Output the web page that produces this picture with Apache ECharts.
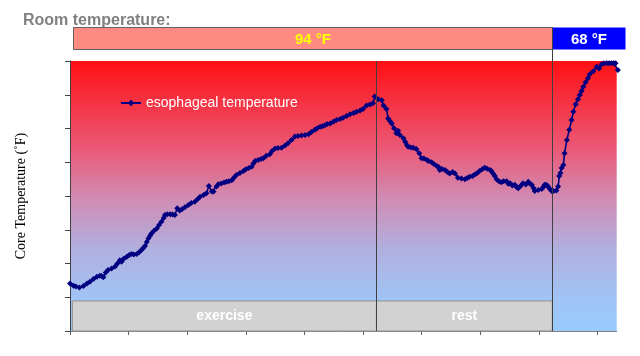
<!DOCTYPE html>
<html><head><meta charset="utf-8">
<script src="https://cdn.jsdelivr.net/npm/echarts@6/dist/echarts.min.js"></script>
<style>html,body{margin:0;padding:0;background:#fff}#c{width:640px;height:356px}</style>
</head><body><div id="c"></div>
<script>
// elapsed time (minutes) and esophageal core temperature (°F)
const minutes = [0.0,0.6,1.0,1.6,2.3,2.9,3.4,4.0,4.6,5.1,5.4,5.7,6.1,6.5,7.1,7.7,8.1,8.5,8.8,9.2,
  9.7,10.1,10.5,10.9,11.4,11.8,12.2,12.5,12.8,13.1,13.4,13.7,13.9,14.3,14.8,15.2,15.6,16.0,16.2,16.6,
  17.1,17.5,17.9,18.3,18.7,19.1,19.6,20.2,20.7,21.3,21.8,22.2,22.8,23.3,23.7,24.2,24.5,25.0,25.3,25.8,
  26.3,26.7,27.1,27.6,28.0,28.4,29.0,29.6,30.0,30.5,31.0,31.3,31.6,32.1,32.6,33.0,33.5,34.1,34.5,35.0,
  35.5,36.1,36.7,37.2,37.8,38.4,38.9,39.5,40.1,40.7,41.2,41.8,42.2,42.7,43.1,43.5,43.9,44.4,45.0,45.5,
  46.1,46.6,47.2,47.8,48.4,48.9,49.5,50.0,50.6,51.2,51.7,52.0,52.6,53.2,53.5,54.0,54.3,54.6,54.9,55.3,
  55.7,56.0,56.3,56.9,57.2,57.5,57.7,58.2,58.6,59.1,59.6,60.0,60.4,60.9,61.2,61.7,62.1,62.6,62.9,63.1,
  63.5,64.0,64.4,64.8,65.3,65.7,66.2,66.8,67.4,67.8,68.2,68.7,69.1,69.5,69.9,70.4,70.8,71.2,71.7,71.9,
  72.2,72.5,72.8,73.2,73.6,74.0,74.5,74.8,75.1,75.5,75.9,76.2,76.5,76.9,77.3,77.8,78.2,78.5,78.8,79.1,
  79.3,79.9,80.5,80.8,81.0,81.3,81.6,81.9,82.2,82.5,83.0,83.3,83.5,83.7,83.9,84.2,84.4,84.8,85.2,85.6,
  85.9,86.3,86.7,87.0,87.3,87.6,88.0,88.4,88.7,89.3,89.9,90.3,90.7,91.1,91.6,92.0,92.4,92.8,93.1,93.5];
const coreTemp = [98.41,98.34,98.32,98.29,98.33,98.41,98.46,98.54,98.61,98.64,98.63,98.59,98.73,98.81,98.85,98.91,99.00,99.10,99.05,99.15,
  99.20,99.25,99.28,99.27,99.28,99.33,99.40,99.46,99.52,99.64,99.75,99.83,99.89,99.96,100.04,100.14,100.24,100.35,100.44,100.46,
  100.46,100.45,100.44,100.64,100.57,100.61,100.67,100.73,100.79,100.83,100.91,100.98,101.03,101.08,101.30,101.13,101.13,101.28,101.35,101.37,
  101.40,101.42,101.44,101.47,101.55,101.62,101.68,101.74,101.79,101.83,101.87,101.96,102.04,102.07,102.10,102.12,102.19,102.24,102.33,102.41,
  102.42,102.43,102.50,102.56,102.66,102.76,102.78,102.79,102.81,102.83,102.90,102.96,103.01,103.05,103.07,103.10,103.13,103.15,103.21,103.25,
  103.28,103.32,103.37,103.42,103.46,103.50,103.53,103.58,103.68,103.71,103.75,103.95,103.87,103.84,103.68,103.58,103.30,103.22,103.15,103.01,
  102.86,102.93,102.81,102.71,102.61,102.51,102.46,102.44,102.43,102.39,102.27,102.12,102.11,102.07,102.04,102.00,101.95,101.89,101.86,101.77,
  101.80,101.77,101.71,101.67,101.71,101.67,101.54,101.52,101.50,101.53,101.57,101.59,101.64,101.68,101.74,101.80,101.84,101.81,101.77,101.74,
  101.67,101.59,101.50,101.44,101.41,101.44,101.44,101.36,101.38,101.31,101.33,101.27,101.23,101.30,101.38,101.34,101.42,101.36,101.33,101.24,
  101.15,101.18,101.21,101.27,101.33,101.33,101.28,101.21,101.15,101.15,101.16,101.28,101.59,101.68,101.83,101.92,102.27,102.66,102.96,103.25,
  103.50,103.72,103.87,103.99,104.11,104.24,104.37,104.49,104.61,104.70,104.83,104.78,104.90,104.93,104.93,104.93,104.93,104.93,104.93,104.73];
const xTickValues = [0,10,20,30,40,50,60,70,80,90];
const yMin = 97, yMax = 105;
const phaseNames = ['exercise','rest'];
const phaseStart = [0.4, 52.3];
const phaseEnd = [52.3, 82.3];
const phaseBoxTop = 97.89;
const roomLabels = ['94 °F','68 °F'];
const roomStart = [0.5, 82.3];
const roomEnd = [82.3, 94.7];
const seriesName = 'esophageal temperature';

const chart = echarts.init(document.getElementById('c'), null, {renderer:'canvas'});
const points = minutes.map((m,i)=>[m, coreTemp[i]]);
chart.setOption({
  animation:false,
  title:{text:'Room temperature:', left:23, top:13, padding:0,
    textStyle:{fontFamily:'Liberation Sans, Arial, sans-serif', fontSize:16, fontWeight:'bold', color:'#808080'}},
  legend:{left:120, top:96, padding:0, itemWidth:20, itemHeight:8, itemGap:5, data:[seriesName],
    textStyle:{color:'#ffffff', fontSize:14, fontFamily:'Liberation Sans, Arial, sans-serif'}},
  grid:{left:70, right:23.3, top:61, bottom:25, show:true, borderWidth:0,
    backgroundColor:{type:'linear',x:0,y:0,x2:0,y2:1,colorStops:[
      {offset:0,color:'#ff1014'},{offset:0.33,color:'#ea5a78'},{offset:0.51,color:'#d08cb4'},
      {offset:0.7,color:'#b0b0e0'},{offset:0.885,color:'#a0c4f6'},{offset:1,color:'#98cafc'}]}},
  xAxis:{type:'value', min:0, max:93.3, interval:10,
    axisLine:{lineStyle:{color:'#808080'}},
    axisTick:{show:true, length:4, customValues:xTickValues, lineStyle:{color:'#606060'}},
    axisLabel:{show:false}, splitLine:{show:false}},
  yAxis:{type:'value', min:yMin, max:yMax, interval:1,
    name:'Core Temperature (˚F)', nameLocation:'middle', nameGap:42, nameRotate:90,
    nameTextStyle:{fontFamily:'Liberation Serif, Times New Roman, serif', fontSize:14, color:'#000'},
    axisLine:{show:true, lineStyle:{color:'#404040'}},
    axisTick:{show:true, length:5, lineStyle:{color:'#404040'}},
    axisLabel:{show:false}, splitLine:{show:false}},
  series:[{
    name:seriesName, type:'line', data:points, symbol:'diamond', symbolSize:6, clip:false,
    lineStyle:{color:'#000080', width:1.6}, itemStyle:{color:'#000080'},
    markArea:{silent:true,
      itemStyle:{color:'#d2d2d2', opacity:1, borderColor:'#909090', borderWidth:1},
      label:{show:true, position:'inside', color:'#ffffff', fontSize:14, fontWeight:'bold',
        fontFamily:'Liberation Sans, Arial, sans-serif'},
      data:phaseNames.map((n,i)=>[{name:n, xAxis:phaseStart[i], yAxis:yMin},{xAxis:phaseEnd[i], yAxis:phaseBoxTop}])},
    markLine:{silent:true, symbol:'none', label:{show:false},
      lineStyle:{color:'#404040', width:1, type:'solid'},
      data:[{xAxis:phaseEnd[0]}]}
  }]
});

const px = v => Math.round(chart.convertToPixel({xAxisIndex:0}, v)) + 0.5;
const boxTop = 27.5, boxH = 22;
const roomFill = ['#ff8a82','#0000ff'];
const roomText = ['#ffff00','#ffffff'];
const graphics = [];
roomLabels.forEach((t,i)=>{
  const x0 = px(roomStart[i]), x1 = px(roomEnd[i]);
  graphics.push({type:'rect', shape:{x:x0, y:boxTop, width:x1-x0, height:boxH},
    style:{fill:roomFill[i], stroke: i===0 ? '#606060' : null, lineWidth:1}, z:10});
  graphics.push({type:'text', x:(x0+x1)/2, y:boxTop+boxH/2+1,
    style:{text:t, fill:roomText[i], font:'bold 15px "Liberation Sans", Arial, sans-serif', align:'center', verticalAlign:'middle'}, z:11});
});
graphics.push({type:'line', shape:{x1:px(phaseEnd[1]), y1:boxTop, x2:px(phaseEnd[1]), y2:331},
  style:{stroke:'#404040', lineWidth:1}, z:12});
chart.setOption({graphic:graphics});
</script></body></html>
